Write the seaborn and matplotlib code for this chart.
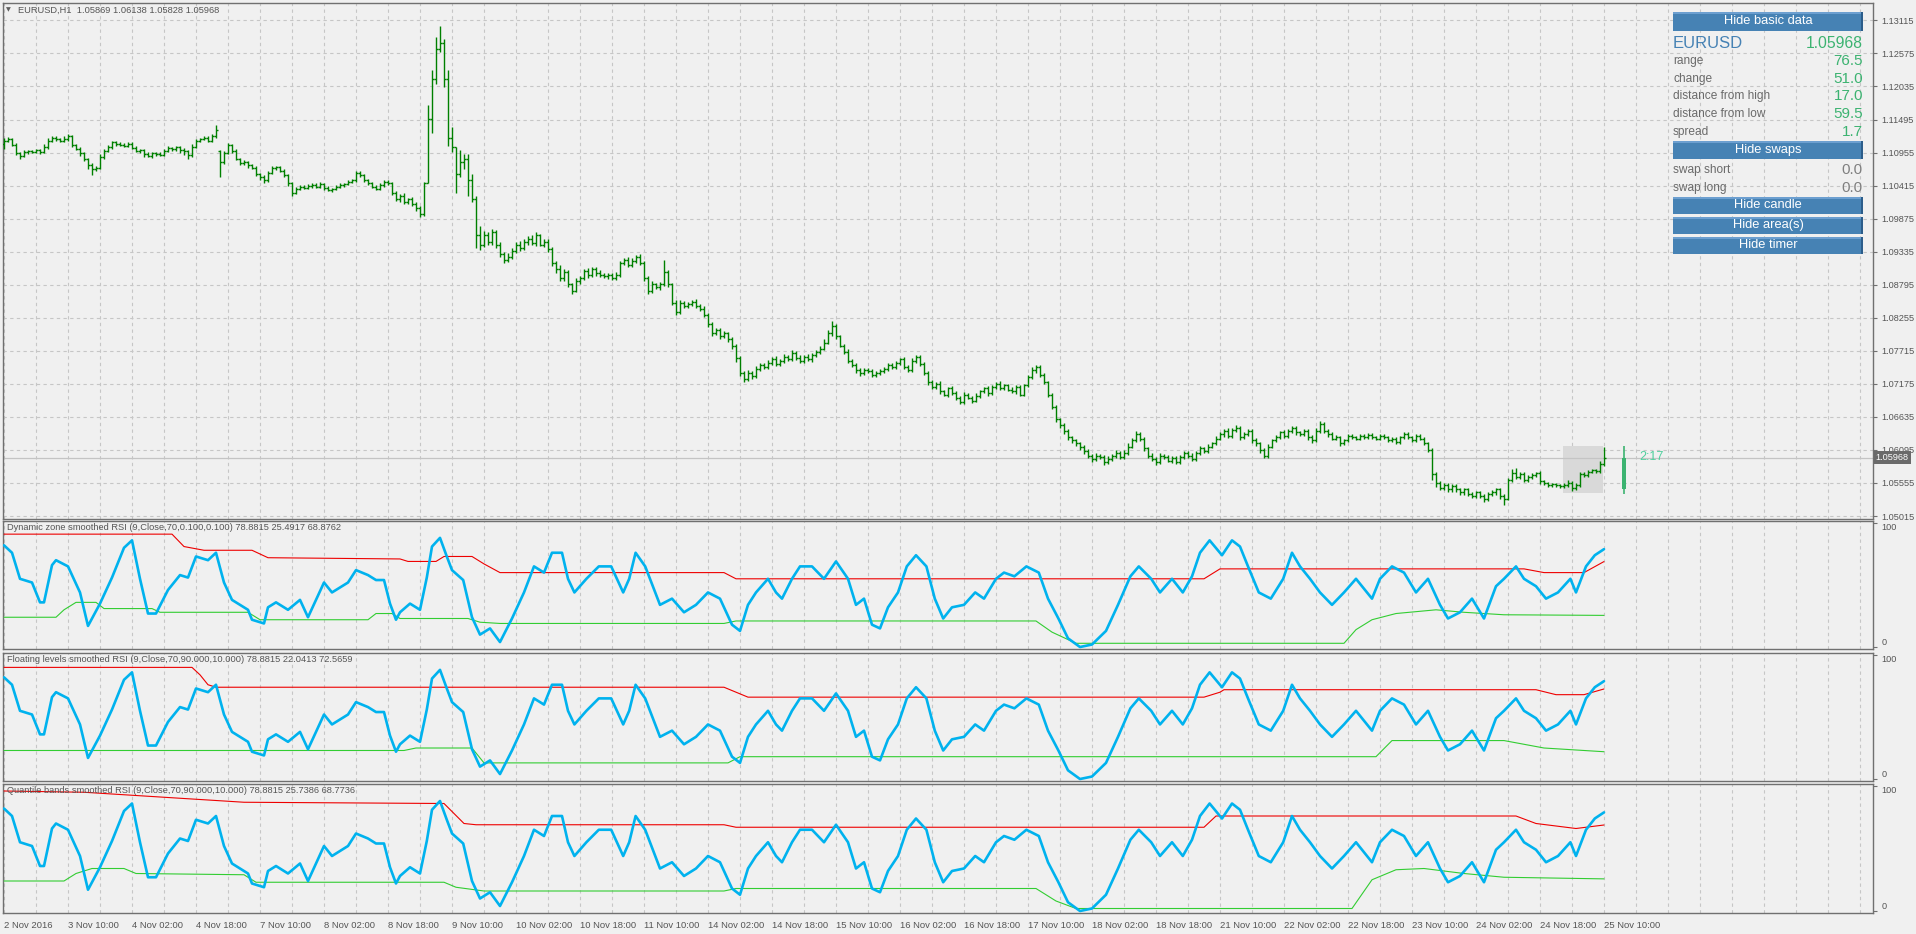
import numpy as np
import pandas as pd
import matplotlib
matplotlib.use("Agg")
import matplotlib.pyplot as plt
import matplotlib.transforms as mtransforms
from matplotlib.patches import Rectangle
import seaborn as sns

W, H = 1916, 934

# ---------------- data ----------------
header = "EURUSD,H1  1.05869 1.06138 1.05828 1.05968"

time_labels = ["2 Nov 2016", "3 Nov 10:00", "4 Nov 02:00", "4 Nov 18:00", "7 Nov 10:00",
               "8 Nov 02:00", "8 Nov 18:00", "9 Nov 10:00", "10 Nov 02:00", "10 Nov 18:00",
               "11 Nov 10:00", "14 Nov 02:00", "14 Nov 18:00", "15 Nov 10:00", "16 Nov 02:00",
               "16 Nov 18:00", "17 Nov 10:00", "18 Nov 02:00", "18 Nov 18:00", "21 Nov 10:00",
               "22 Nov 02:00", "22 Nov 18:00", "23 Nov 10:00", "24 Nov 02:00", "24 Nov 18:00",
               "25 Nov 10:00"]
label_bars = [0, 16, 32, 48, 64, 80, 96, 112, 128, 144, 160, 176, 192, 208, 224,
              240, 256, 272, 288, 304, 320, 336, 352, 368, 384, 400]

price_ticks = [1.05015, 1.05555, 1.06095, 1.06635, 1.07175, 1.07715, 1.08255, 1.08795,
               1.09335, 1.09875, 1.10415, 1.10955, 1.11495, 1.12035, 1.12575, 1.13115]

# H1 closes in 1/10000 (bar 0 = 2 Nov 18:00)
close_pips = [
    11115, 11118, 11108, 11095, 11090, 11096, 11098, 11097, 11099, 11096,
    11104, 11115, 11120, 11117, 11114, 11118, 11122, 11108, 11102, 11094,
    11085, 11075, 11068, 11070, 11088, 11098, 11104, 11112, 11110, 11108,
    11107, 11110, 11103, 11098, 11100, 11093, 11090, 11094, 11093, 11092,
    11098, 11103, 11101, 11104, 11100, 11098, 11092, 11105, 11115, 11118,
    11120, 11115, 11122, 11133, 11080, 11095, 11108, 11098, 11085, 11078,
    11080, 11075, 11070, 11060, 11055, 11050, 11062, 11070, 11072, 11066,
    11058, 11045, 11030, 11036, 11040, 11038, 11041, 11043, 11040, 11044,
    11038, 11034, 11036, 11040, 11042, 11044, 11047, 11050, 11062, 11058,
    11050, 11045, 11040, 11036, 11042, 11048, 11045, 11030, 11020, 11025,
    11015, 11020, 11012, 11005, 10995, 11045, 11150, 11215, 11265, 11275,
    11215, 11120, 11105, 11060, 11080, 11085, 11050, 11020, 10960, 10945,
    10960, 10950, 10965, 10945, 10930, 10920, 10925, 10935, 10945, 10940,
    10950, 10955, 10948, 10960, 10945, 10950, 10938, 10915, 10905, 10890,
    10900, 10880, 10870, 10885, 10890, 10902, 10895, 10905, 10898, 10895,
    10893, 10895, 10890, 10895, 10915, 10920, 10912, 10918, 10925, 10915,
    10890, 10870, 10880, 10875, 10880, 10900, 10880, 10850, 10835, 10850,
    10845, 10848, 10852, 10845, 10840, 10830, 10815, 10800, 10805, 10795,
    10800, 10790, 10780, 10760, 10735, 10725, 10735, 10730, 10742, 10748,
    10745, 10752, 10758, 10750, 10755, 10762, 10758, 10768, 10760, 10755,
    10762, 10758, 10765, 10770, 10775, 10785, 10800, 10812, 10795, 10780,
    10770, 10755, 10748, 10740, 10735, 10740, 10738, 10732, 10735, 10738,
    10742, 10748, 10745, 10752, 10758, 10745, 10740, 10755, 10762, 10750,
    10735, 10720, 10712, 10718, 10705, 10700, 10710, 10702, 10695, 10688,
    10700, 10695, 10690, 10698, 10705, 10710, 10702, 10712, 10718, 10710,
    10715, 10708, 10705, 10712, 10700, 10715, 10728, 10740, 10745, 10732,
    10720, 10700, 10680, 10660, 10650, 10640, 10630, 10625, 10620, 10615,
    10608, 10600, 10595, 10600, 10598, 10590, 10595, 10600, 10605, 10598,
    10605, 10615, 10625, 10635, 10628, 10612, 10600, 10595, 10590, 10600,
    10598, 10592, 10596, 10590, 10598, 10605, 10600, 10595, 10605, 10612,
    10608, 10615, 10620, 10628, 10635, 10640, 10632, 10642, 10645, 10630,
    10635, 10640, 10625, 10620, 10610, 10600, 10615, 10625, 10630, 10638,
    10632, 10640, 10645, 10638, 10635, 10640, 10630, 10625, 10640, 10652,
    10640, 10635, 10628, 10630, 10620, 10625, 10632, 10630, 10628, 10632,
    10630, 10634, 10630, 10628, 10632, 10630, 10625, 10628, 10622, 10630,
    10635, 10630, 10625, 10632, 10628, 10620, 10610, 10570, 10555, 10548,
    10552, 10545, 10550, 10545, 10540, 10545, 10538, 10535, 10540, 10535,
    10530, 10538, 10540, 10545, 10535, 10530, 10560, 10572, 10565, 10570,
    10560, 10565, 10568, 10572, 10558, 10555, 10552, 10554, 10552, 10550,
    10552, 10556, 10548, 10552, 10570, 10568, 10574, 10576, 10575, 10587,
    10596.8,
]
# wick above / below the bar body, in pips
wick_up = [
    4, 3, 2, 3, 2, 3, 2, 2, 3, 2,   5, 4, 3, 2, 3, 4, 3, 2, 2, 3,
    2, 2, 3, 4, 5, 3, 4, 3, 2, 2,   3, 2, 2, 3, 2, 2, 3, 2, 2, 3,
    3, 4, 2, 3, 2, 3, 2, 4, 3, 2,   3, 2, 3, 8, 2, 3, 3, 2, 3, 2,
    3, 2, 2, 3, 2, 3, 4, 3, 2, 2,   2, 3, 2, 3, 2, 2, 3, 2, 2, 3,
    2, 3, 2, 2, 3, 2, 3, 3, 4, 3,   2, 3, 2, 2, 3, 3, 2, 2, 3, 3,
    4, 2, 3, 2, 3, 3, 23, 15, 19, 28, 6, 15, 18, 0, 20, 8, 8, 10, 5, 15,
    8, 5, 6, 4, 5, 3, 6, 4, 5, 6,   5, 4, 6, 5, 3, 4, 5, 3, 4, 6,
    5, 4, 3, 5, 4, 3, 5, 4, 3, 5,   3, 4, 3, 5, 4, 3, 4, 5, 3, 4,
    3, 4, 5, 3, 4, 20, 4, 3, 5, 4,  3, 4, 3, 4, 3, 5, 4, 3, 4, 3,
    4, 3, 4, 3, 3, 4, 5, 3, 4, 3,   3, 4, 3, 5, 3, 4, 3, 4, 3, 4,
    3, 4, 3, 3, 4, 5, 6, 8, 4, 3,   3, 4, 3, 3, 4, 3, 3, 4, 3, 3,
    3, 4, 3, 3, 2, 3, 3, 4, 3, 2,   3, 4, 3, 3, 4, 3, 3, 4, 3, 3,
    4, 3, 3, 4, 3, 3, 4, 3, 3, 4,   3, 3, 4, 3, 4, 3, 4, 5, 3, 3,
    3, 2, 3, 3, 2, 3, 3, 2, 3, 3,   3, 3, 3, 4, 3, 3, 4, 3, 4, 3,
    4, 5, 4, 5, 3, 3, 3, 4, 3, 4,   3, 4, 3, 3, 4, 3, 3, 4, 3, 4,
    3, 4, 3, 4, 4, 3, 5, 4, 5, 3,   4, 3, 3, 4, 3, 3, 4, 3, 4, 3,
    4, 3, 4, 3, 3, 4, 3, 4, 5, 4,   3, 3, 3, 4, 3, 3, 4, 3, 3, 3,
    3, 3, 3, 3, 3, 3, 3, 3, 3, 3,   4, 3, 3, 3, 3, 3, 3, 3, 4, 3,
    3, 3, 3, 3, 3, 3, 3, 3, 3, 3,   3, 3, 4, 3, 3, 3, 4, 6, 8, 3,
    3, 4, 3, 2, 3, 2, 2, 2, 2, 2,   3, 4, 3, 3, 4, 3, 3, 3, 3, 4,
    17.0,
]
wick_dn = [
    8, 3, 2, 3, 5, 2, 3, 2, 2, 3,   2, 2, 3, 3, 2, 2, 3, 3, 2, 4,
    4, 6, 9, 3, 2, 3, 2, 3, 3, 2,   2, 3, 2, 2, 3, 4, 2, 3, 3, 2,
    2, 2, 3, 3, 5, 6, 7, 3, 2, 2,   2, 3, 2, 3, 25, 3, 2, 3, 2, 3,
    3, 4, 2, 3, 5, 5, 2, 2, 3, 3,   3, 4, 6, 3, 2, 2, 2, 3, 2, 2,
    3, 2, 3, 2, 2, 3, 2, 2, 3, 3,   3, 2, 3, 2, 2, 3, 3, 4, 3, 5,
    3, 3, 4, 5, 5, 3, 0, 23, 7, 5,  13, 14, 8, 30, 5, 12, 26, 5, 20, 8,
    4, 6, 5, 6, 5, 5, 4, 4, 3, 5,   4, 5, 4, 5, 3, 4, 5, 5, 6, 5,
    4, 5, 6, 3, 4, 3, 4, 3, 4, 3,   3, 4, 3, 3, 3, 4, 3, 4, 3, 4,
    5, 6, 4, 3, 4, 3, 5, 4, 5, 4,   4, 3, 3, 4, 3, 4, 4, 5, 3, 4,
    3, 4, 5, 6, 5, 5, 3, 4, 3, 3,   3, 3, 4, 3, 3, 4, 3, 3, 4, 3,
    3, 3, 4, 3, 3, 3, 3, 4, 4, 3,   3, 4, 3, 4, 4, 3, 3, 3, 4, 3,
    3, 3, 4, 3, 3, 4, 3, 3, 3, 4,   3, 4, 3, 3, 4, 3, 4, 3, 4, 4,
    3, 3, 4, 3, 3, 3, 4, 3, 3, 3,   3, 3, 3, 4, 3, 3, 3, 3, 4, 3,
    3, 4, 4, 5, 4, 4, 4, 5, 4, 5,   5, 4, 5, 4, 4, 5, 4, 3, 4, 4,
    3, 3, 3, 3, 4, 4, 4, 4, 5, 3,   4, 3, 4, 4, 3, 4, 4, 3, 3, 3,
    3, 3, 3, 3, 3, 4, 3, 3, 3, 5,   3, 3, 4, 4, 5, 4, 3, 3, 3, 3,
    3, 3, 3, 4, 3, 3, 4, 4, 3, 3,   3, 4, 3, 3, 4, 3, 3, 3, 3, 3,
    3, 3, 3, 3, 3, 3, 3, 3, 3, 3,   3, 3, 3, 3, 3, 3, 4, 10, 6, 4,
    4, 4, 4, 4, 4, 4, 4, 4, 4, 4,   5, 4, 4, 4, 5, 10, 3, 3, 3, 3,
    3, 3, 3, 3, 4, 3, 3, 3, 3, 3,   3, 3, 5, 4, 3, 3, 3, 3, 3, 4,
    4.2,
]
gap_open = {0: 11110, 54: 11098}   # bars whose open is not the previous close

# big "current candle" drawn right of the chart, the shaded area and timer
candle_bar = 405
candle_ohlc = (1.05455, 1.06160, 1.05370, 1.05968)
area_bars = (389.8, 399.8)
area_prices = (1.05395, 1.06160)
last_price = 1.05968
timer_text = "2:17"

# smoothed RSI (same in all three windows): bar, value
rsi_bar = [0, 2, 4, 7, 9, 10, 12, 13, 16, 19, 21, 24, 27, 30, 32, 34, 36, 38, 41, 44,
           46, 48, 51, 53, 55, 57, 61, 62, 65, 66, 68, 71, 74, 76, 80, 82, 86, 88, 91, 93,
           95, 96.5, 98, 99, 101.5, 104, 105.7, 107, 109, 110.7, 112, 114.8, 117, 119, 121.5, 124,
           127, 130, 132.5, 135, 137, 139.5, 141, 142.6, 145.6, 148.7, 151.8, 154.8, 156.3, 157.9,
           160.3, 164, 167, 170, 173, 176, 179, 182, 184, 186, 188, 191, 193, 194.5, 197, 199,
           202, 205, 208, 211, 213, 215, 217, 219, 221, 223.5, 225.7, 228, 230.6, 232.7, 234.8,
           237, 240, 242.8, 245, 248, 250, 252.6, 255.6, 258.7, 261, 263.6, 266, 269, 272, 275.5,
           278.5, 281.6, 283.7, 286.8, 289, 292, 294.7, 297, 299, 301.4, 304.5, 307, 309, 311,
           313.7, 316.7, 319.8, 322, 324, 326.5, 329, 332, 335, 338, 342, 344, 347, 350, 353,
           356, 359, 361, 364, 367, 370, 373, 375, 378, 380, 383, 385.5, 388.5, 391.6, 393,
           395.5, 397.7, 400]
rsi_val = [82, 76, 55, 52, 36, 36, 66, 70, 65, 44, 17, 35, 56, 80, 86, 55, 27, 27, 46, 58,
           56, 73, 70, 76, 52, 38, 30, 22, 19, 32, 36, 30, 38, 24, 52, 44, 52, 62, 58, 54,
           54, 35, 22, 28, 35, 30, 56, 81, 88, 73, 62, 54, 24, 10, 15, 4,
           23, 44, 65, 60, 76, 76, 55, 44, 55, 65, 65, 44, 55, 76,
           65, 34, 39, 28, 34, 44, 39, 18, 13, 34, 44, 55, 44, 39, 55, 65,
           65, 55, 69, 55, 34, 39, 18, 15, 32, 44, 65, 74, 65, 39, 23,
           32, 34, 44, 39, 55, 60, 57, 65, 60, 39, 23, 7, 0, 2, 13,
           34, 57, 65, 55, 44, 55, 44, 57, 76, 86, 74, 86, 81, 65,
           44, 39, 55, 76, 65, 55, 44, 34, 44, 55, 39, 55, 65, 60, 44,
           55, 34, 23, 28, 39, 23, 49, 55, 65, 55, 49, 39, 44, 55, 44,
           65, 74, 78.9]

panel_titles = [
    "Dynamic zone smoothed RSI (9,Close,70,0.100,0.100) 78.8815 25.4917 68.8762",
    "Floating levels smoothed RSI (9,Close,70,90.000,10.000) 78.8815 22.0413 72.5659",
    "Quantile bands smoothed RSI (9,Close,70,90.000,10.000) 78.8815 25.7386 68.7736",
]
# upper (red) and lower (green) levels per window: bar, value
p1_red_bar = [0, 42, 45, 50, 62, 66, 99, 101, 108, 110, 117, 120, 124, 180, 183, 300, 304, 380, 385, 395, 400]
p1_red_val = [91, 91, 81, 78, 78, 72, 71, 69, 69, 73, 73, 67, 60, 60, 55, 55, 63, 63, 60, 60, 68.9]
p1_grn_bar = [0, 13, 15, 18, 23, 25, 37, 39, 61, 64, 91, 93, 97, 99, 116, 119, 124, 180, 183,
              258, 262, 266, 268, 335, 338, 342, 348, 358, 365, 375, 400]
p1_grn_val = [24, 24, 30, 36, 36, 31, 31, 28, 28, 22, 22, 27, 27, 23, 23, 20, 19, 19, 21,
              21, 12, 6, 3, 3, 14, 22, 27, 30, 28, 26, 25.5]
p2_red_bar = [0, 47, 49, 51, 53, 180, 183, 186, 300, 304, 305, 383, 388, 395, 400]
p2_red_val = [90, 90, 84, 76, 74, 74, 70, 66, 66, 70, 72, 72, 68, 68, 72.6]
p2_grn_bar = [0, 100, 103, 117, 120, 181, 184, 343, 347, 375, 385, 400]
p2_grn_val = [23, 23, 25, 25, 13, 13, 18, 18, 31, 31, 25, 22]
p3_red_bar = [0, 20, 45, 60, 110, 115, 118, 180, 183, 300, 303, 378, 383, 393, 400]
p3_red_val = [96, 95, 90, 87, 86, 70, 69, 69, 67, 67, 76, 76, 70, 66, 68.8]
p3_grn_bar = [0, 15, 18, 22, 30, 33, 60, 63, 110, 113, 120, 180, 183, 258, 263, 268, 337,
              342, 348, 355, 365, 375, 400]
p3_grn_val = [24, 24, 30, 34, 34, 30, 29, 23, 23, 19, 16, 16, 18, 18, 8, 2, 2,
              25, 33, 34, 30, 27, 25.7]

info_rows = [("range", "76.5"), ("change", "51.0"), ("distance from high", "17.0"),
             ("distance from low", "59.5"), ("spread", "1.7")]
swap_rows = [("swap short", "0.0"), ("swap long", "0.0")]

# ---------------- build bars ----------------
assert len(close_pips) == len(wick_up) == len(wick_dn) == 401
bars = pd.DataFrame({"bar": np.arange(len(close_pips)), "close": close_pips})
opens = [gap_open.get(0, close_pips[0])] + close_pips[:-1]
for k, v in gap_open.items():
    opens[k] = v
bars["open"] = opens
bars["high"] = np.maximum(bars["open"], bars["close"]) + np.array(wick_up)
bars["low"] = np.minimum(bars["open"], bars["close"]) - np.array(wick_dn)
for c in ["open", "close", "high", "low"]:
    bars[c] = bars[c] / 10000.0

# ---------------- style ----------------
BG = "#f0f0f0"
FRAME = "#707070"
GRID = "#c6c6c6"
TXT = "#555555"
BAR_GREEN = "#008000"
RSI_BLUE = "#00b2ee"

sns.set_style("white")
plt.rcParams["font.family"] = ["Liberation Sans", "DejaVu Sans"]

fig = plt.figure(figsize=(W / 100, H / 100), dpi=100, facecolor=BG)


def box(y0, y1, x0=3, x1=1873):
    return [x0 / W, 1 - y1 / H, (x1 - x0) / W, (y1 - y0) / H]


ax_main = fig.add_axes(box(3, 519))
panels = [fig.add_axes(box(521, 649)), fig.add_axes(box(653, 781)), fig.add_axes(box(784, 913))]
X_LEFT, X_RIGHT = -0.25, 467.25
grid_bars = list(range(0, 465, 8))

# ---------------- main price window ----------------
ax_main.add_patch(Rectangle((area_bars[0], area_prices[0]), area_bars[1] - area_bars[0],
                            area_prices[1] - area_prices[0], color="#d9d9d9", lw=0, zorder=1))
ax_main.axhline(last_price, color="#c4c4c4", lw=0.9, zorder=1.5)

ax_main.vlines(bars["bar"], bars["low"], bars["high"], color=BAR_GREEN, lw=1, zorder=3)
ax_main.hlines(bars["open"], bars["bar"] - 0.45, bars["bar"], color=BAR_GREEN, lw=1, zorder=3)
ax_main.hlines(bars["close"], bars["bar"], bars["bar"] + 0.45, color=BAR_GREEN, lw=1, zorder=3)

co, ch, cl, cc = candle_ohlc
ax_main.vlines([candle_bar], [cl], [ch], color="#3cb371", lw=1.2, zorder=3)
ax_main.add_patch(Rectangle((candle_bar - 0.4, co), 0.8, cc - co, color="#3cb371", lw=0, zorder=3))
ax_main.text(candle_bar + 3.75, last_price + 0.0001, timer_text, color="#4fcf9d", fontsize=9,
             va="center", ha="left")

# ---------------- RSI windows ----------------
levels = [(p1_red_bar, p1_red_val, p1_grn_bar, p1_grn_val),
          (p2_red_bar, p2_red_val, p2_grn_bar, p2_grn_val),
          (p3_red_bar, p3_red_val, p3_grn_bar, p3_grn_val)]
rsi_df = pd.DataFrame({"bar": rsi_bar, "rsi": rsi_val})

for ax, (rb, rv, gb, gv) in zip(panels, levels):
    sns.lineplot(x=gb, y=gv, ax=ax, color="#32cd32", lw=0.8, estimator=None, sort=False, zorder=3)
    sns.lineplot(x=rb, y=rv, ax=ax, color="#ee0000", lw=0.8, estimator=None, sort=False, zorder=3)
    sns.lineplot(data=rsi_df, x="bar", y="rsi", ax=ax, color=RSI_BLUE, lw=1.9, estimator=None,
                 sort=False, zorder=4)

# ---------------- axes cosmetics (after plotting so seaborn cannot reset them) ----------------
for ax in [ax_main] + panels:
    ax.set_facecolor(BG)
    for s in ax.spines.values():
        s.set_color(FRAME)
        s.set_linewidth(1)
    ax.set_xlim(X_LEFT, X_RIGHT)
    ax.set_xlabel("")
    ax.set_ylabel("")
    ax.set_xticks(grid_bars, minor=True)
    ax.grid(True, which="both", axis="x", color=GRID, ls=(0, (3, 3)), lw=0.8)
    ax.tick_params(axis="x", which="minor", length=0)
    ax.yaxis.tick_right()

for ax in [ax_main] + panels[:2]:
    ax.set_xticks(label_bars)
    ax.tick_params(axis="x", which="major", length=0, labelbottom=False)

ax_main.set_ylim(1.04966, 1.13399)
ax_main.set_yticks(price_ticks, labels=[f"{p:.5f}" for p in price_ticks])
ax_main.grid(True, axis="y", color=GRID, ls=(0, (3, 3)), lw=0.8)
ax_main.tick_params(axis="y", length=3, width=0.8, color=FRAME, pad=3, labelsize=6.6, labelcolor=TXT)

tr = mtransforms.blended_transform_factory(ax_main.transAxes, ax_main.transData)
ax_main.text(1.0015, last_price, f"{last_price:.5f}", transform=tr, color="white", fontsize=6.6,
             va="center", ha="left", bbox=dict(fc="#6a6a6a", ec="none", pad=1.6), zorder=6,
             clip_on=False)

fig.text(6 / W, 1 - 10 / H, "\u25bc", fontsize=4.5, color="#606060", va="center", ha="left",
         family="DejaVu Sans")
fig.text(18 / W, 1 - 10 / H, header, fontsize=6.7, color=TXT, va="center", ha="left")

for ax, title in zip(panels, panel_titles):
    ax.set_ylim(-1.6, 101.6)
    ax.set_yticks([0, 100], labels=["0", "100"])
    ax.tick_params(axis="y", length=3, width=0.8, color=FRAME, pad=3, labelsize=6.6, labelcolor=TXT)
    lbls = ax.get_yticklabels()
    lbls[0].set_va("bottom")
    lbls[1].set_va("top")
    ax.text(0.002, 0.985, title, transform=ax.transAxes, fontsize=6.7, color=TXT, va="top",
            ha="left", zorder=6)

ax3 = panels[2]
ax3.set_xticks(label_bars, labels=time_labels)
ax3.tick_params(axis="x", which="major", length=4, width=0.8, color=FRAME, pad=2,
                labelsize=6.8, labelcolor=TXT)
for t in ax3.get_xticklabels():
    t.set_ha("left")

# ---------------- info block (top right) ----------------
BX0, BX1 = 1673, 1863


def button(text, y0, y1):
    fig.add_artist(Rectangle((BX0 / W, 1 - y1 / H), (BX1 - BX0) / W, (y1 - y0) / H,
                             transform=fig.transFigure, fc="#4682b4", ec="none", zorder=5))
    fig.add_artist(Rectangle((BX0 / W, 1 - (y0 + 2) / H), (BX1 - BX0) / W, 2 / H,
                             transform=fig.transFigure, fc="#6c9fd0", ec="none", zorder=5))
    fig.add_artist(Rectangle(((BX1 - 2) / W, 1 - y1 / H), 2 / W, (y1 - y0) / H,
                             transform=fig.transFigure, fc="#2c5d8a", ec="none", zorder=5))
    fig.text((BX0 + BX1) / 2 / W, 1 - (y0 + y1) / 2 / H, text, color="white", fontsize=9.3,
             ha="center", va="center", zorder=6)


button("Hide basic data", 12, 31)
fig.text(BX0 / W, 1 - 43 / H, "EURUSD", color="#4682b4", fontsize=12, ha="left", va="center", zorder=6)
fig.text(BX1 / W, 1 - 43 / H, f"{last_price:.5f}", color="#3cb371", fontsize=11.3, ha="right",
         va="center", zorder=6)
for k, (name, val) in enumerate(info_rows):
    y = 61 + k * 17.7
    fig.text(BX0 / W, 1 - y / H, name, color="#6a6a6a", fontsize=8.6, ha="left", va="center", zorder=6)
    fig.text(BX1 / W, 1 - y / H, val, color="#3cb371", fontsize=11, ha="right", va="center", zorder=6)
button("Hide swaps", 141, 159)
for k, (name, val) in enumerate(swap_rows):
    y = 170 + k * 17.7
    fig.text(BX0 / W, 1 - y / H, name, color="#6a6a6a", fontsize=8.6, ha="left", va="center", zorder=6)
    fig.text(BX1 / W, 1 - y / H, val, color="#808080", fontsize=11, ha="right", va="center", zorder=6)
button("Hide candle", 197, 214)
button("Hide area(s)", 217, 234)
button("Hide timer", 237, 254)

fig.savefig("out.png", dpi=100, facecolor=BG)
